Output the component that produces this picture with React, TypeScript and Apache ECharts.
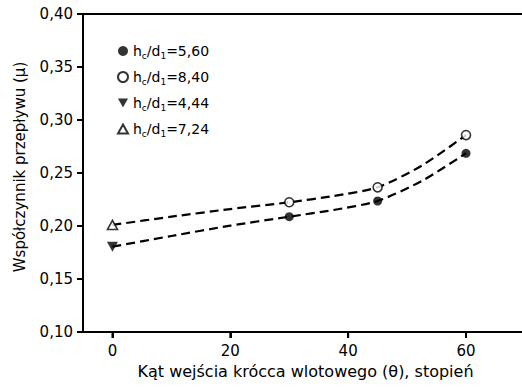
import React, { useEffect, useRef } from "react";
import * as echarts from "echarts";

const xTicks = [0, 20, 40, 60];
const yTicks = [0.1, 0.15, 0.2, 0.25, 0.3, 0.35, 0.4];

// dashed fitted curves (marker points + curve points between them)
const upperX = [0, 10, 20, 30, 37.5, 45, 52.5, 60];
const upperY = [0.201, 0.2088, 0.216, 0.2224, 0.2283, 0.2365, 0.257, 0.2858];
const lowerX = [0, 10, 20, 30, 37.5, 45, 52.5, 60];
const lowerY = [0.1805, 0.1906, 0.2003, 0.2088, 0.2151, 0.2236, 0.2425, 0.2686];

const s560X = [30, 45, 60];
const s560Y = [0.2088, 0.2236, 0.2686];
const s840X = [30, 45, 60];
const s840Y = [0.2224, 0.2365, 0.2858];
const s444X = [0];
const s444Y = [0.1805];
const s724X = [0];
const s724Y = [0.201];

const names = ["hc/d1=5,60", "hc/d1=8,40", "hc/d1=4,44", "hc/d1=7,24"];
const richLabels: Record<string, string> = {
  "hc/d1=5,60": "{n|h}{s|c}{n|/d}{s|1}{n|=5,60}",
  "hc/d1=8,40": "{n|h}{s|c}{n|/d}{s|1}{n|=8,40}",
  "hc/d1=4,44": "{n|h}{s|c}{n|/d}{s|1}{n|=4,44}",
  "hc/d1=7,24": "{n|h}{s|c}{n|/d}{s|1}{n|=7,24}",
};

const X_MIN = -5;
const X_MAX = 69.5;
const Y_MIN = 0.1;
const Y_MAX = 0.4;

const FONT = "DejaVu Sans";
const TRI_DOWN = "path://M0,0L10,0L5,9Z";
const TRI_UP = "path://M5,0L10,9L0,9Z";
const TICK_LEN = 6;

const zip = (xs: number[], ys: number[]) => xs.map((x, i) => [x, ys[i]]);

export default function App() {
  const ref = useRef<HTMLDivElement>(null);
  useEffect(() => {
    if (!ref.current) return;
    const chart = echarts.init(ref.current, undefined, { renderer: "svg" });
    const dashed = {
      type: "line",
      smooth: 0.25,
      showSymbol: false,
      symbol: "none",
      lineStyle: { color: "#000", width: 2.2, type: [9, 5] },
      z: 1,
      silent: true,
    };
    chart.setOption({
      animation: false,
      grid: { left: 83, top: 14, right: 0, bottom: 55 },
      legend: {
        left: 112,
        top: 39,
        padding: 5,
        orient: "vertical",
        itemWidth: 10,
        itemHeight: 10,
        itemGap: 10,
        itemTextGap: 15,
        data: [
          { name: names[0], icon: "circle" },
          { name: names[1], icon: "circle" },
          { name: names[2], icon: TRI_DOWN },
          { name: names[3], icon: TRI_UP },
        ],
        formatter: (name: string) => richLabels[name] || name,
        textStyle: {
          color: "#000",
          rich: {
            n: { fontFamily: FONT, fontSize: 14, lineHeight: 18, color: "#000" },
            s: {
              fontFamily: FONT,
              fontSize: 9,
              lineHeight: 9,
              color: "#000",
              verticalAlign: "bottom",
            },
          },
        },
      },
      xAxis: [
        {
          type: "value",
          min: X_MIN,
          max: X_MAX,
          name: "Kąt wejścia krócca wlotowego (θ), stopień",
          nameLocation: "middle",
          nameGap: 31,
          nameTextStyle: { fontFamily: FONT, fontSize: 16, color: "#000", padding: [0, 0, 0, 6] },
          axisLine: { show: true, onZero: false, lineStyle: { color: "#000", width: 2 } },
          axisTick: {
            show: true,
            length: TICK_LEN,
            customValues: xTicks,
            lineStyle: { color: "#000", width: 2 },
          },
          axisLabel: {
            customValues: xTicks,
            fontFamily: FONT,
            fontSize: 15,
            color: "#000",
            margin: 11,
          },
          splitLine: { show: false },
        },
        {
          type: "value",
          position: "top",
          min: X_MIN,
          max: X_MAX,
          axisLine: { show: true, onZero: false, lineStyle: { color: "#000", width: 2 } },
          axisTick: { show: false },
          axisLabel: { show: false },
          splitLine: { show: false },
        },
      ],
      yAxis: {
        type: "value",
        min: Y_MIN,
        max: Y_MAX,
        interval: 0.05,
        name: "Współczynnik przepływu (µ)",
        nameLocation: "middle",
        nameGap: 56,
        nameRotate: 90,
        nameTextStyle: { fontFamily: FONT, fontSize: 15, color: "#000", padding: [0, 0, 0, 12] },
        axisLine: { show: true, onZero: false, lineStyle: { color: "#000", width: 2 } },
        axisTick: { show: true, length: TICK_LEN, lineStyle: { color: "#000", width: 2 } },
        axisLabel: {
          fontFamily: FONT,
          fontSize: 15,
          color: "#000",
          margin: 10,
          formatter: (v: number) => v.toFixed(2).replace(".", ","),
        },
        splitLine: { show: false },
      },
      series: [
        {
          type: "custom",
          coordinateSystem: "cartesian2d",
          silent: true,
          clip: false,
          z: 5,
          data: xTicks.map((v) => [v, Y_MIN]),
          renderItem: (_p: any, api: any) => {
            const c = api.coord([api.value(0), api.value(1)]);
            return {
              type: "line",
              shape: { x1: c[0], y1: c[1], x2: c[0], y2: c[1] + TICK_LEN },
              style: { stroke: "#000", lineWidth: 2 },
            };
          },
        },
        {
          type: "custom",
          coordinateSystem: "cartesian2d",
          silent: true,
          clip: false,
          z: 5,
          data: yTicks.map((v) => [X_MIN, v]),
          renderItem: (_p: any, api: any) => {
            const c = api.coord([api.value(0), api.value(1)]);
            return {
              type: "line",
              shape: { x1: c[0] - TICK_LEN, y1: c[1], x2: c[0], y2: c[1] },
              style: { stroke: "#000", lineWidth: 2 },
            };
          },
        },
        { ...dashed, data: zip(upperX, upperY) },
        { ...dashed, data: zip(lowerX, lowerY) },
        {
          name: names[0],
          type: "scatter",
          symbol: "circle",
          symbolSize: 9,
          itemStyle: { color: "#000" },
          data: zip(s560X, s560Y),
          z: 3,
        },
        {
          name: names[1],
          type: "scatter",
          symbol: "circle",
          symbolSize: 9,
          itemStyle: { color: "#fff", borderColor: "#000", borderWidth: 1.6 },
          data: zip(s840X, s840Y),
          z: 3,
        },
        {
          name: names[2],
          type: "scatter",
          symbol: TRI_DOWN,
          symbolSize: [11, 10],
          itemStyle: { color: "#000" },
          data: zip(s444X, s444Y),
          z: 3,
        },
        {
          name: names[3],
          type: "scatter",
          symbol: TRI_UP,
          symbolSize: [10, 9],
          itemStyle: { color: "#fff", borderColor: "#000", borderWidth: 1.6 },
          data: zip(s724X, s724Y),
          z: 3,
        },
      ],
    });
    return () => chart.dispose();
  }, []);
  return (
    <div
      ref={ref}
      style={{ position: "absolute", left: 0, top: 0, width: 522, height: 387 }}
    />
  );
}
